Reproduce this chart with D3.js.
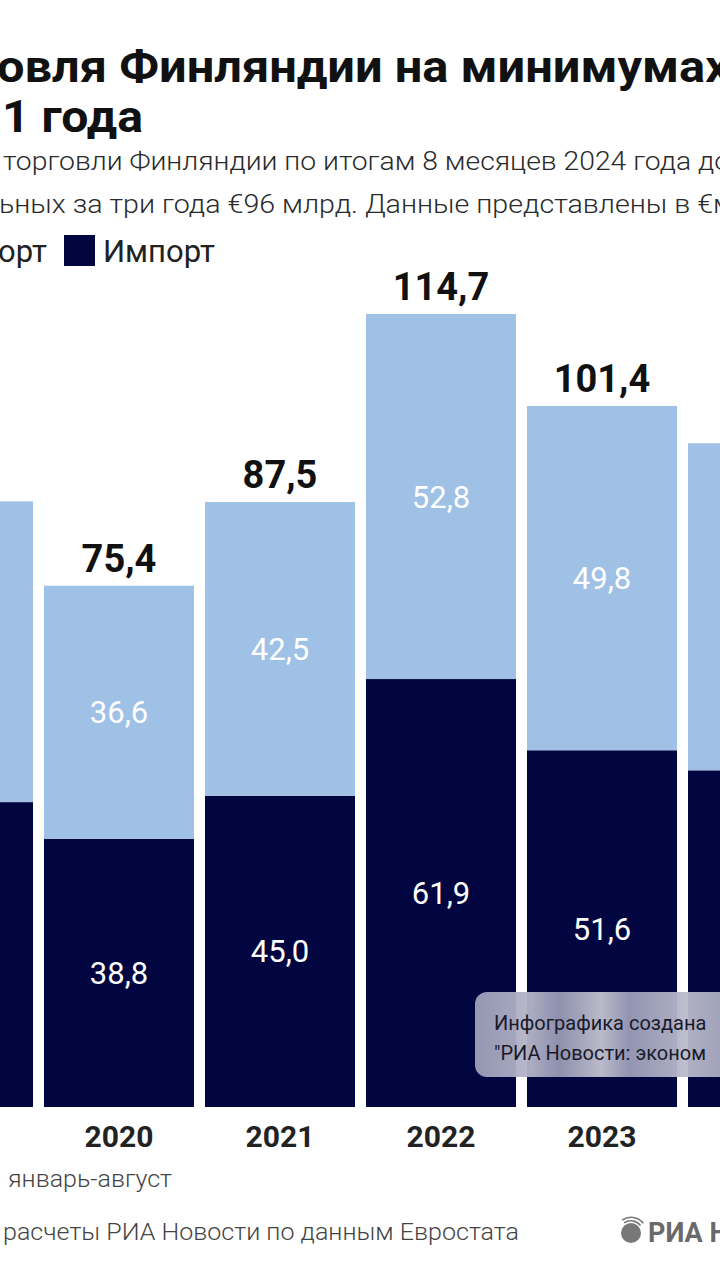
<!DOCTYPE html>
<html>
<head>
<meta charset="utf-8">
<script src="https://cdn.jsdelivr.net/npm/d3@7"></script>
<style>
  html, body { margin: 0; padding: 0; background: #fff; }
  svg { display: block; font-family: Roboto, "Noto Sans", sans-serif; }
</style>
</head>
<body>
<div id="chart"></div>
<script>
// chart data (€ bn, January-August of each year)
var years = ["2019", "2020", "2021", "2022", "2023", "2024"]
var exportVals = [43.5, 36.6, 42.5, 52.8, 49.8, 47.3]
var importVals = [44.1, 38.8, 45.0, 61.9, 51.6, 48.7]
var totals = [87.6, 75.4, 87.5, 114.7, 101.4, 96.0]
var seriesNames = ["Экспорт", "Импорт"]

var width = 720, height = 1280
var exportColor = "#9fc1e6", importColor = "#020640"

var svg = d3.select("#chart").append("svg")
  .attr("width", width)
  .attr("height", height)

svg.append("rect").attr("width", width).attr("height", height).attr("fill", "#fff")

// the picture is a crop, so the band range runs past both edges
var x = d3.scaleBand()
  .domain(years)
  .range([-117, 838])
  .paddingInner(11 / 161)

var y = d3.scaleLinear()
  .domain([0, d3.max(totals)])
  .range([1107, 314])

var fmt = function(v) { return d3.format(".1f")(v).replace(".", ",") }

var rows = years.map(function(yr, i) {
  return { year: yr, exp: exportVals[i], imp: importVals[i], total: totals[i] }
})
// labels of the cropped bars fall outside the picture, so only label visible ones
var cx = function(d) { return x(d.year) + x.bandwidth() / 2 }
var labelled = rows.filter(function(d) { return cx(d) > 0 && cx(d) < width })

// title (cropped on the left in the original)
svg.append("text")
  .attr("x", -3).attr("y", 82)
  .attr("textLength", 733).attr("lengthAdjust", "spacingAndGlyphs")
  .attr("font-size", 45).attr("font-weight", 700).attr("fill", "#111")
  .text("овля Финляндии на минимумах")
svg.append("text")
  .attr("x", 2).attr("y", 132)
  .attr("textLength", 141).attr("lengthAdjust", "spacingAndGlyphs")
  .attr("font-size", 45).attr("font-weight", 700).attr("fill", "#111")
  .text("1 года")

// subtitle
svg.append("text")
  .attr("x", 3).attr("y", 170)
  .attr("textLength", 727).attr("lengthAdjust", "spacingAndGlyphs")
  .attr("font-size", 26).attr("font-weight", 300).attr("fill", "#2a2a2a")
  .text("торговли Финляндии по итогам 8 месяцев 2024 года до")
svg.append("text")
  .attr("x", -1).attr("y", 213)
  .attr("textLength", 735).attr("lengthAdjust", "spacingAndGlyphs")
  .attr("font-size", 26).attr("font-weight", 300).attr("fill", "#2a2a2a")
  .text("ьных за три года €96 млрд. Данные представлены в €м")

// legend
svg.append("text")
  .attr("x", -2).attr("y", 262)
  .attr("font-size", 31).attr("fill", "#222")
  .text(seriesNames[0].slice(4))
svg.append("rect")
  .attr("x", 64).attr("y", 235).attr("width", 31).attr("height", 31)
  .attr("fill", importColor)
svg.append("text")
  .attr("x", 103).attr("y", 262)
  .attr("font-size", 31).attr("fill", "#222")
  .text(seriesNames[1])

// bars
var bars = svg.append("g")

bars.selectAll("rect.imp")
  .data(rows).enter().append("rect")
    .attr("class", "imp")
    .attr("x", function(d) { return x(d.year) })
    .attr("width", x.bandwidth())
    .attr("y", function(d) { return y(d.imp) })
    .attr("height", function(d) { return y(0) - y(d.imp) })
    .attr("fill", importColor)

bars.selectAll("rect.exp")
  .data(rows).enter().append("rect")
    .attr("class", "exp")
    .attr("x", function(d) { return x(d.year) })
    .attr("width", x.bandwidth())
    .attr("y", function(d) { return y(d.imp + d.exp) })
    .attr("height", function(d) { return y(d.imp) - y(d.imp + d.exp) })
    .attr("fill", exportColor)

// values inside segments
bars.selectAll("text.vimp")
  .data(labelled).enter().append("text")
    .attr("x", cx)
    .attr("y", function(d) { return (y(0) + y(d.imp)) / 2 + 11 })
    .attr("text-anchor", "middle")
    .attr("font-size", 31).attr("fill", "#fff")
    .text(function(d) { return fmt(d.imp) })

bars.selectAll("text.vexp")
  .data(labelled).enter().append("text")
    .attr("x", cx)
    .attr("y", function(d) { return (y(d.imp) + y(d.imp + d.exp)) / 2 + 11 })
    .attr("text-anchor", "middle")
    .attr("font-size", 31).attr("fill", "#fff")
    .text(function(d) { return fmt(d.exp) })

// totals above bars
bars.selectAll("text.tot")
  .data(labelled).enter().append("text")
    .attr("x", cx)
    .attr("y", function(d) { return y(d.total) - 14 })
    .attr("text-anchor", "middle")
    .attr("font-size", 38).attr("font-weight", 700).attr("fill", "#111")
    .text(function(d) { return fmt(d.total) })

// year axis
var xAxis = svg.append("g")
  .attr("transform", "translate(0," + y(0) + ")")
  .call(d3.axisBottom(x).tickSize(0).tickPadding(40)
    .tickValues(labelled.map(function(d) { return d.year })))
xAxis.select(".domain").remove()
xAxis.selectAll("text")
  .attr("font-family", "Roboto, sans-serif")
  .attr("font-size", 30).attr("font-weight", 700).attr("fill", "#222")
  .attr("dy", 0)

// watermark plate
var defs = svg.append("defs")
var grad = defs.append("linearGradient").attr("id", "plate")
  .attr("x1", "0%").attr("x2", "100%")
var stops = [[0, "#9c9eb9"], [0.2, "#b4b5c8"], [0.3, "#9597b3"], [0.45, "#c3c3d0"], [0.55, "#9a9cb8"], [0.75, "#b9bacb"], [1, "#9b9db8"]]
stops.forEach(function(s) {
  grad.append("stop").attr("offset", s[0]).attr("stop-color", s[1])
})
svg.append("rect")
  .attr("x", 475).attr("y", 992).attr("width", 280).attr("height", 85)
  .attr("rx", 12)
  .attr("fill", "url(#plate)").attr("opacity", 0.95)
svg.append("text")
  .attr("x", 494).attr("y", 1030)
  .attr("font-size", 20).attr("fill", "#1a1a2a")
  .text("Инфографика создана")
svg.append("text")
  .attr("x", 494).attr("y", 1060)
  .attr("font-size", 20).attr("fill", "#1a1a2a")
  .text("\"РИА Новости: эконом")

// footnotes
svg.append("text")
  .attr("x", 8).attr("y", 1187)
  .attr("textLength", 164).attr("lengthAdjust", "spacingAndGlyphs")
  .attr("font-size", 24).attr("font-weight", 300).attr("fill", "#444")
  .text("январь-август")
svg.append("text")
  .attr("x", 3).attr("y", 1240)
  .attr("textLength", 516).attr("lengthAdjust", "spacingAndGlyphs")
  .attr("font-size", 24).attr("font-weight", 300).attr("fill", "#444")
  .text("расчеты РИА Новости по данным Евростата")

// RIA logo
var logo = svg.append("g").attr("transform", "translate(631,1233)")
logo.append("circle").attr("r", 10).attr("fill", "#777")
;[13, 16.5].forEach(function(r) {
  logo.append("path")
    .attr("d", d3.arc()({ innerRadius: r - 1.6, outerRadius: r, startAngle: -0.6, endAngle: 0.9 }))
    .attr("fill", "#777")
})
svg.append("text")
  .attr("x", 648).attr("y", 1242)
  .attr("font-size", 27).attr("font-weight", 700).attr("fill", "#6a6a6a")
  .text("РИА Н")
</script>
</body>
</html>
